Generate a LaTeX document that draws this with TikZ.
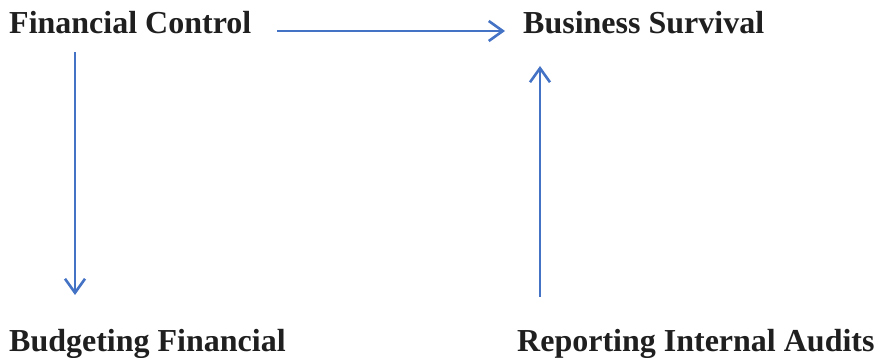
\documentclass[tikz,border=0pt]{standalone}
\usepackage{fontspec}
\setmainfont{Liberation Serif}
\usetikzlibrary{arrows.meta}
\definecolor{arrblue}{HTML}{4472C4}
\tikzset{
  lbl/.style={anchor=base west, inner sep=0pt, font=\bfseries\fontsize{32}{38}\selectfont, text=black!88},
  conn/.style={draw=arrblue, line width=2.6pt, -{Straight Barb[length=14pt,width=20pt,line width=2.6pt]}}
}
\begin{document}
\begin{tikzpicture}[x=1pt,y=-1pt]
\useasboundingbox (0,0) rectangle (876,358);
\node[lbl] (fc) at (9,34) {Financial Control};
\node[lbl] (bs) at (523,34) {Business Survival};
\node[lbl] (bf) at (9,352) {Budgeting Financial};
\node[lbl] (ria) at (517,352) {Reporting Internal Audits};
\draw[conn] ([shift={(26,-3)}]fc.base east) -- ([shift={(-18,-3)}]bs.base west);
\draw[conn] ([shift={(66,18)}]fc.base west) -- ([shift={(66,-57)}]bf.base west);
\draw[conn] ([shift={(23,-55)}]ria.base west) -- ([shift={(17,32)}]bs.base west);
\end{tikzpicture}
\end{document}
